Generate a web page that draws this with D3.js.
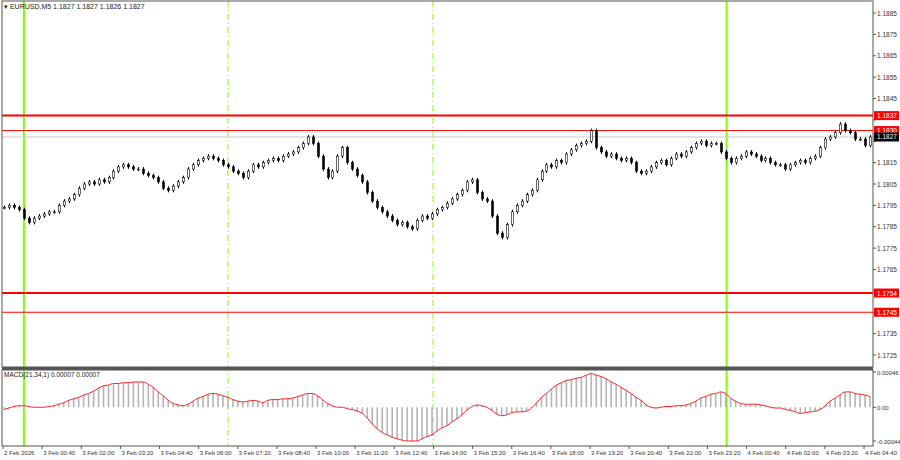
<!DOCTYPE html>
<html><head><meta charset="utf-8">
<script src="https://cdn.jsdelivr.net/npm/d3@7"></script>
<style>body{margin:0;background:#fff}text{font-family:"Liberation Sans",Arial,sans-serif}</style>
</head><body><svg id="c" width="900" height="460"></svg>
<script>
const closes = [1.1794,1.1795,1.1794,1.1793,1.1789,1.1787,1.1789,1.1790,1.1791,1.1792,1.1792,1.1795,1.1797,1.1798,1.1800,1.1803,1.1805,1.1806,1.1805,1.1807,1.1806,1.1808,1.1811,1.1813,1.1814,1.1813,1.1812,1.1812,1.1810,1.1809,1.1808,1.1806,1.1803,1.1802,1.1804,1.1806,1.1808,1.1812,1.1814,1.1816,1.1817,1.1818,1.1817,1.1816,1.1814,1.1813,1.1811,1.1810,1.1808,1.1811,1.1814,1.1813,1.1815,1.1816,1.1817,1.1816,1.1818,1.1819,1.1820,1.1822,1.1824,1.1827,1.1824,1.1818,1.1812,1.1808,1.1811,1.1818,1.1822,1.1815,1.1812,1.1809,1.1806,1.1801,1.1797,1.1794,1.1792,1.1790,1.1788,1.1786,1.1787,1.1785,1.1784,1.1788,1.1790,1.1789,1.1791,1.1793,1.1794,1.1796,1.1798,1.1800,1.1802,1.1806,1.1807,1.1801,1.1798,1.1797,1.1790,1.1782,1.1780,1.1786,1.1792,1.1795,1.1797,1.1800,1.1802,1.1807,1.1811,1.1814,1.1813,1.1816,1.1815,1.1819,1.1821,1.1823,1.1824,1.1825,1.1830,1.1822,1.1820,1.1818,1.1819,1.1817,1.1816,1.1817,1.1815,1.1811,1.1810,1.1811,1.1813,1.1815,1.1816,1.1814,1.1817,1.1819,1.1818,1.1820,1.1822,1.1824,1.1825,1.1823,1.1824,1.1824,1.1820,1.1817,1.1815,1.1817,1.1818,1.1820,1.1819,1.1818,1.1816,1.1817,1.1815,1.1814,1.1814,1.1812,1.1814,1.1815,1.1816,1.1815,1.1817,1.1818,1.1822,1.1826,1.1827,1.1829,1.1833,1.1830,1.1829,1.1826,1.1826,1.1823,1.1827];
// MACD in units of 1e-5
const macd = [-3,-1,1,2,2,1,0,0,0,1,2,4,6,9,11,13,16,18,21,25,28,29,31,31,32,32,33,33,33,30,26,20,15,9,5,3,2,4,8,12,14,17,18,17,15,13,10,8,7,8,9,8,6,9,10,10,11,11,12,14,16,18,18,15,10,5,2,0,0,-2,-3,-5,-8,-14,-22,-28,-33,-36,-39,-41,-43,-44,-44,-44,-41,-38,-36,-31,-27,-24,-19,-15,-10,-4,1,3,2,0,-4,-9,-11,-10,-7,-6,-6,-5,-1,6,13,18,24,29,32,35,36,38,39,42,44,42,40,37,33,30,26,22,18,13,9,3,0,-1,0,1,1,2,2,3,5,8,12,14,17,18,20,18,12,8,5,4,4,4,3,2,0,-1,-1,-3,-4,-6,-8,-7,-6,-5,-3,2,8,12,16,20,20,18,17,16,14];
const priceTicks = [1.1885,1.1875,1.1865,1.1855,1.1845,1.1835,1.1825,1.1815,1.1805,1.1795,1.1785,1.1775,1.1765,1.1755,1.1745,1.1735,1.1725];
const levels = [{v:1.1837,w:2},{v:1.1830,w:1},{v:1.1754,w:2},{v:1.1745,w:1}];
const lastPrice = 1.1827;
const timeLabels = ["2 Feb 2026","3 Feb 00:40","3 Feb 02:00","3 Feb 03:20","3 Feb 04:40","3 Feb 06:00","3 Feb 07:20","3 Feb 08:40","3 Feb 10:00","3 Feb 11:20","3 Feb 12:40","3 Feb 14:00","3 Feb 15:20","3 Feb 16:40","3 Feb 18:00","3 Feb 19:20","3 Feb 20:40","3 Feb 22:00","3 Feb 23:20","4 Feb 00:40","4 Feb 02:00","4 Feb 03:20","4 Feb 04:40"];
const solidSeps = [4, 145.2];   // candle indexes of day starts
const dashSeps = [45, 86.2];

const svg = d3.select("#c");
const L = 2, R = 873, T = 1, B = 367, MT = 370, MB = 446;
const x = d3.scaleLinear().domain([0, closes.length - 1]).range([4, 870]);
const y = d3.scaleLinear().domain([1.1725, 1.1885]).range([355, 13]);
const ym = d3.scaleLinear().domain([-44, 46]).range([441, 372]);
const xt = d3.scaleLinear().domain([0, timeLabels.length - 1]).range([3, 864]);

// separators
solidSeps.forEach(i => svg.append("line").attr("x1", x(i)).attr("x2", x(i)).attr("y1", T).attr("y2", MB).attr("stroke", "#7fff00").attr("stroke-width", 2));
dashSeps.forEach(i => svg.append("line").attr("x1", x(i)).attr("x2", x(i)).attr("y1", T).attr("y2", MB).attr("stroke", "#7fff00").attr("stroke-dasharray", "6,3,1,3"));

// level lines
svg.append("line").attr("x1", L).attr("x2", R).attr("y1", y(lastPrice)).attr("y2", y(lastPrice)).attr("stroke", "#c8c8c8");
levels.forEach(l => svg.append("line").attr("x1", L).attr("x2", R).attr("y1", y(l.v)).attr("y2", y(l.v)).attr("stroke", "#ff0000").attr("stroke-width", l.w));

// candles
const g = svg.append("g");
closes.forEach((c, i) => {
  const o = i ? closes[i - 1] : c;
  const hi = Math.max(o, c) + 0.00009, lo = Math.min(o, c) - 0.00009;
  const cx = Math.round(x(i)) + 0.5;
  g.append("line").attr("x1", cx).attr("x2", cx).attr("y1", y(hi)).attr("y2", y(lo)).attr("stroke", "#000");
  const top = y(Math.max(o, c)), h = Math.max(1, Math.abs(y(o) - y(c)));
  g.append("rect").attr("x", cx - 1).attr("y", top).attr("width", 2).attr("height", h)
    .attr("fill", c >= o ? "#fff" : "#000").attr("stroke", "#000").attr("stroke-width", 0.6);
});

// MACD histogram + line
macd.forEach((m, i) => {
  svg.append("line").attr("x1", x(i)).attr("x2", x(i)).attr("y1", ym(0)).attr("y2", ym(m)).attr("stroke", "#b4b4b4").attr("stroke-width", 1.6);
});
svg.append("path").datum(macd).attr("fill", "none").attr("stroke", "#ff2020").attr("stroke-width", 1)
  .attr("d", d3.line().x((d, i) => x(i)).y(d => ym(d)).curve(d3.curveMonotoneX));

// frames
svg.append("rect").attr("x", L).attr("y", T).attr("width", R - L).attr("height", B - T).attr("fill", "none").attr("stroke", "#555");
svg.append("rect").attr("x", L).attr("y", MT).attr("width", R - L).attr("height", MB - MT).attr("fill", "none").attr("stroke", "#555");
svg.append("rect").attr("x", L).attr("y", B).attr("width", R - L).attr("height", MT - B).attr("fill", "#555");

// right axis (labels hidden behind tags are skipped)
const tagged = levels.map(l => l.v).concat([lastPrice]);
priceTicks.forEach(p => {
  svg.append("line").attr("x1", R).attr("x2", R + 3).attr("y1", y(p)).attr("y2", y(p)).attr("stroke", "#555");
  if (tagged.some(v => Math.abs(y(v) - y(p)) < 9)) return;
  svg.append("text").attr("x", R + 4).attr("y", y(p) + 2.5).attr("font-size", 6.5).attr("fill", "#333").text(p.toFixed(4));
});
function tag(v, bg) {
  svg.append("rect").attr("x", R + 1).attr("y", y(v) - 4.5).attr("width", 25).attr("height", 9).attr("fill", bg);
  svg.append("text").attr("x", R + 4).attr("y", y(v) + 2.5).attr("font-size", 6.5).attr("fill", "#fff").text(v.toFixed(4));
}
levels.forEach(l => tag(l.v, "#ff0000"));
tag(lastPrice, "#000");

// MACD axis
[[46, "0.00046"], [0, "0.00"], [-44, "-0.00044"]].forEach(([v, t]) => {
  svg.append("line").attr("x1", R).attr("x2", R + 3).attr("y1", ym(v)).attr("y2", ym(v)).attr("stroke", "#555");
  svg.append("text").attr("x", R + 4).attr("y", ym(v) + 2.5).attr("font-size", 6).attr("fill", "#333").text(t);
});

// time axis
timeLabels.forEach((t, i) => {
  svg.append("line").attr("x1", xt(i)).attr("x2", xt(i)).attr("y1", MB).attr("y2", MB + 3).attr("stroke", "#555");
  svg.append("text").attr("x", xt(i) + 1).attr("y", 455).attr("font-size", 6).attr("fill", "#333").text(t);
});

// titles
svg.append("text").attr("x", 4).attr("y", 9).attr("font-size", 7).attr("fill", "#222").text("▾ EURUSD,M5  1.1827 1.1827 1.1826 1.1827");
svg.append("text").attr("x", 4).attr("y", 377).attr("font-size", 6.5).attr("fill", "#222").text("MACD(21,34,1) 0.00007 0.00007");
</script></body></html>
